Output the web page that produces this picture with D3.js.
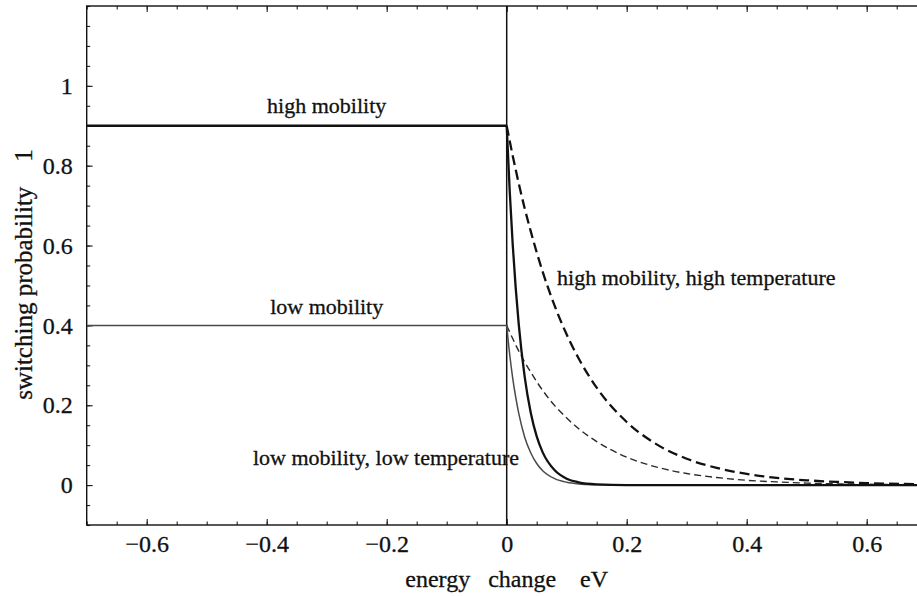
<!DOCTYPE html>
<html>
<head>
<meta charset="utf-8">
<script src="https://cdn.jsdelivr.net/npm/d3@7"></script>
<style>
  html, body { margin: 0; padding: 0; background: #fff; }
  svg { display: block; }
  text { font-family: "Liberation Serif", "Times New Roman", serif; fill: #111; stroke: #111; stroke-width: 0.3px; }
</style>
</head>
<body>
<svg id="chart" width="917" height="596"></svg>
<script>
// Energy change (eV) below zero: flat plateau of each mobility
const plateauEnergy = [-0.7, 0];
const highPlateau = [0.9, 0.9];
const lowPlateau = [0.4, 0.4];

// Energy change (eV) above zero, sampled along the decaying branches
const decayEnergy = [0, 0.005, 0.01, 0.015, 0.02, 0.03, 0.04, 0.05, 0.06, 0.08, 0.1, 0.12, 0.15, 0.2, 0.25, 0.3, 0.35, 0.4, 0.45, 0.5, 0.55, 0.6, 0.7];

// switching probability on the decaying branches
const highLowT  = [0.900, 0.737, 0.603, 0.494, 0.404, 0.271, 0.182, 0.122, 0.082, 0.037, 0.016, 0.007, 0.002, 0.000, 0, 0, 0, 0, 0, 0, 0, 0, 0];
const lowLowT   = [0.400, 0.327, 0.268, 0.220, 0.180, 0.120, 0.081, 0.054, 0.036, 0.016, 0.007, 0.003, 0.001, 0.000, 0, 0, 0, 0, 0, 0, 0, 0, 0];
const highHighT = [0.900, 0.862, 0.825, 0.790, 0.756, 0.693, 0.636, 0.583, 0.534, 0.449, 0.377, 0.317, 0.244, 0.158, 0.102, 0.066, 0.043, 0.028, 0.018, 0.012, 0.008, 0.005, 0.002];
const lowHighT  = [0.400, 0.383, 0.367, 0.351, 0.336, 0.308, 0.283, 0.259, 0.237, 0.199, 0.168, 0.141, 0.109, 0.070, 0.045, 0.029, 0.019, 0.012, 0.008, 0.005, 0.003, 0.002, 0.001];

// Axis ticks and labels
const xTickValues = [-0.6, -0.4, -0.2, 0, 0.2, 0.4, 0.6];
const yTickValues = [0, 0.2, 0.4, 0.6, 0.8, 1];
const xTitle = "energy\u00A0\u00A0\u00A0change\u00A0\u00A0\u00A0\u00A0eV";
const yTitle = "switching\u00A0probability\u00A0\u00A0\u00A0\u00A01";

const svg = d3.select("#chart");
const plotLeft = 86.7, plotTop = 6, plotBottom = 525;
const x = d3.scaleLinear().domain([-0.7, 0.7]).range([plotLeft, plotLeft + 840]);
const y = d3.scaleLinear().domain([-0.1, 1.2]).range([plotBottom, plotTop]);

const minorX = d3.range(-14, 15).map(i => i * 0.05);
const minorY = d3.range(-2, 25).map(i => i * 0.05);

const fmt = d3.format("~g");

// bottom axis: inward ticks, labels below
const gBottom = svg.append("g").attr("transform", `translate(0,${plotBottom})`);
gBottom.call(d3.axisBottom(x).tickValues(minorX).tickSizeInner(-3.5).tickSizeOuter(0).tickFormat(""));
gBottom.call(g => g.select(".domain").remove());
const gBottomMajor = svg.append("g").attr("transform", `translate(0,${plotBottom})`);
gBottomMajor.call(d3.axisBottom(x).tickValues(xTickValues).tickSizeInner(-6).tickSizeOuter(0).tickPadding(10).tickFormat(fmt));
gBottomMajor.call(g => g.select(".domain").remove());

// top axis: inward ticks only
const gTop = svg.append("g").attr("transform", `translate(0,${plotTop})`);
gTop.call(d3.axisTop(x).tickValues(minorX).tickSizeInner(-3.5).tickSizeOuter(0).tickFormat(""));
gTop.selectAll(".domain").remove();
const gTopMajor = svg.append("g").attr("transform", `translate(0,${plotTop})`);
gTopMajor.call(d3.axisTop(x).tickValues(xTickValues).tickSizeInner(-6).tickSizeOuter(0).tickFormat(""));
gTopMajor.selectAll(".domain").remove();

// left axis
const gLeft = svg.append("g").attr("transform", `translate(${plotLeft},0)`);
gLeft.call(d3.axisLeft(y).tickValues(minorY).tickSizeInner(-3.5).tickSizeOuter(0).tickFormat(""));
gLeft.call(g => g.select(".domain").remove());
const gLeftMajor = svg.append("g").attr("transform", `translate(${plotLeft},0)`);
gLeftMajor.call(d3.axisLeft(y).tickValues(yTickValues).tickSizeInner(-6).tickSizeOuter(0).tickPadding(14).tickFormat(fmt));
gLeftMajor.call(g => g.select(".domain").remove());

svg.selectAll(".tick line").attr("stroke", "#222").attr("stroke-width", 1.1);
svg.selectAll(".tick text")
  .style("font-family", "'Liberation Serif', serif")
  .style("font-size", "24px")
  .attr("fill", "#111");

// frame
svg.append("rect")
  .attr("x", x(-0.7)).attr("y", y(1.2))
  .attr("width", x(0.7) - x(-0.7)).attr("height", y(-0.1) - y(1.2))
  .attr("fill", "none").attr("stroke", "#111").attr("stroke-width", 1.4);

// vertical line at zero energy change
svg.append("line")
  .attr("x1", x(0)).attr("x2", x(0))
  .attr("y1", y(1.2)).attr("y2", y(-0.1))
  .attr("stroke", "#111").attr("stroke-width", 1.5);

svg.append("clipPath").attr("id", "plotClip")
  .append("rect")
  .attr("x", x(-0.7)).attr("y", y(1.2))
  .attr("width", x(0.7) - x(-0.7)).attr("height", y(-0.1) - y(1.2));

const plot = svg.append("g").attr("clip-path", "url(#plotClip)");

const line = d3.line().x(d => x(d[0])).y(d => y(d[1])).curve(d3.curveMonotoneX);
const straight = d3.line().x(d => x(d[0])).y(d => y(d[1]));

const series = [
  { name: "lowHighT",  xs: decayEnergy, ys: lowHighT,  stroke: "#2a2a2a", width: 1.4, dash: "7,4", gen: line },
  { name: "highHighT", xs: decayEnergy, ys: highHighT, stroke: "#111",    width: 2.3, dash: "10,5", gen: line },
  { name: "lowPlateau",  xs: plateauEnergy, ys: lowPlateau,  stroke: "#4a4a4a", width: 1.5, dash: null, gen: straight },
  { name: "highPlateau", xs: plateauEnergy, ys: highPlateau, stroke: "#111", width: 2.3, dash: null, gen: straight },
  { name: "lowLowT",   xs: decayEnergy, ys: lowLowT,   stroke: "#4a4a4a", width: 1.5, dash: null, gen: line },
  { name: "highLowT",  xs: decayEnergy, ys: highLowT,  stroke: "#111", width: 2.3, dash: null, gen: line }
];

series.forEach(s => {
  plot.append("path")
    .datum(s.xs.map((e, i) => [e, s.ys[i]]))
    .attr("class", s.name)
    .attr("fill", "none")
    .attr("stroke", s.stroke)
    .attr("stroke-width", s.width)
    .attr("stroke-dasharray", s.dash)
    .attr("d", s.gen);
});

// curve annotations
const notes = [
  { text: "high mobility", e: -0.30, p: 0.932, anchor: "middle" },
  { text: "low mobility", e: -0.30, p: 0.428, anchor: "middle" },
  { text: "high mobility, high temperature", e: 0.084, p: 0.501, anchor: "start" },
  { text: "low mobility, low temperature", e: -0.423, p: 0.05, anchor: "start" }
];
svg.selectAll("text.note").data(notes).join("text")
  .attr("class", "note")
  .attr("x", d => x(d.e)).attr("y", d => y(d.p))
  .attr("text-anchor", d => d.anchor)
  .style("font-size", "22px")
  .text(d => d.text);

// axis titles
svg.append("text")
  .attr("x", x(0)).attr("y", 587)
  .attr("text-anchor", "middle")
  .style("font-size", "24px")
  .text(xTitle);

svg.append("text")
  .attr("transform", `translate(32,${(142 + 407) / 2}) rotate(-90)`)
  .attr("text-anchor", "middle")
  .style("font-size", "25px")
  .text(yTitle);
</script>
</body>
</html>
